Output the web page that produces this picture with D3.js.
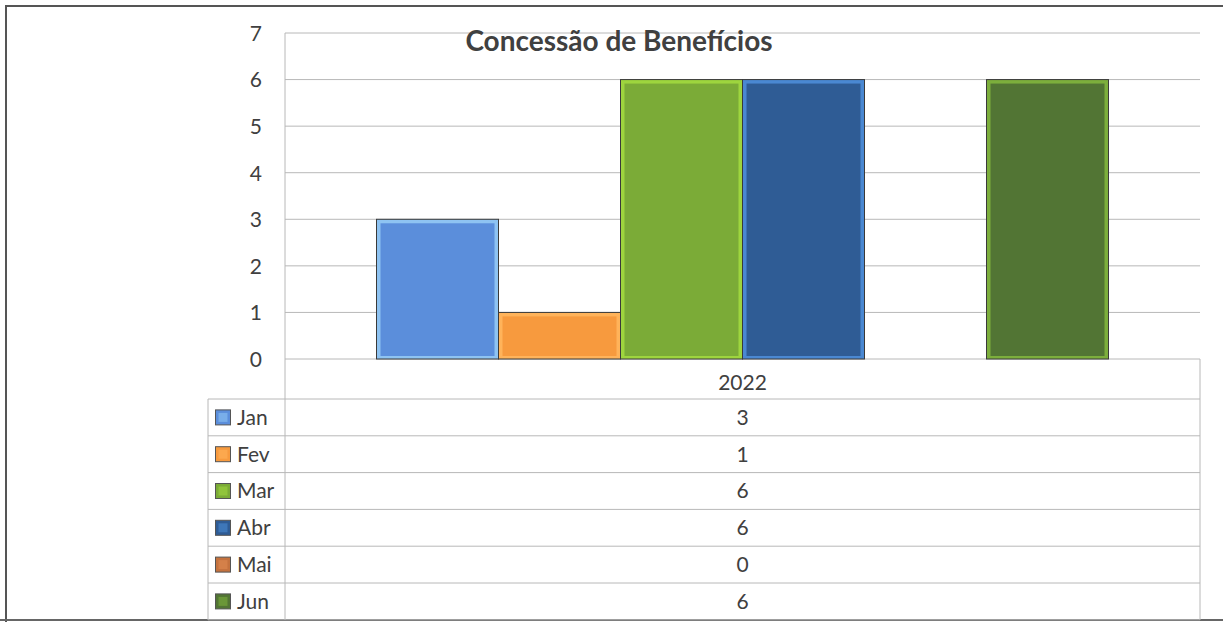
<!DOCTYPE html>
<html><head><meta charset="utf-8">
<script src="https://cdn.jsdelivr.net/npm/d3@7"></script>
<style>body{margin:0;background:#fff}svg{display:block}</style>
</head><body>
<svg id="c" width="1223" height="622"></svg>
<script>
const months = ["Jan","Fev","Mar","Abr","Mai","Jun"];
const values = [3,1,6,6,0,6];
const yTicks = [0,1,2,3,4,5,6,7];
const category = "2022";
const title = "Concessão de Benefícios";
const fills = ["#5b8edb","#f79a3e","#7bab37","#2f5c95","#c4723e","#527534"];
const inner = ["#8ec3f2","#ffb35a","#9ed53e","#4a88d2","#e08a52","#7cae3c"];

const svg = d3.select("#c");
const font = "Lato, 'Liberation Sans', sans-serif";
const txt = "#404040";
const L = 285, R = 1200, T = 33, B = 359;
const y = d3.scaleLinear().domain([0,7]).range([B,T]);
const xOuter = d3.scaleBand().domain([category]).range([L,R]).paddingInner(0).paddingOuter(0.125);
const x = d3.scaleBand().domain(months).range([xOuter(category), xOuter(category)+xOuter.bandwidth()]);
const cx = xOuter(category)+xOuter.bandwidth()/2;

// outer frame
svg.append("path").attr("d","M6,622 V6 H1223").attr("fill","none").attr("stroke","#555").attr("stroke-width",2);
svg.append("line").attr("x1",0).attr("x2",1223).attr("y1",620).attr("y2",620).attr("stroke","#666").attr("stroke-width",2);

// gridlines
svg.append("g").selectAll("line").data(yTicks).join("line")
  .attr("x1",L).attr("x2",R).attr("y1",d=>y(d)).attr("y2",d=>y(d))
  .attr("stroke","#b8b8b8").attr("stroke-width",1);
svg.append("line").attr("x1",L).attr("x2",L).attr("y1",T).attr("y2",620).attr("stroke","#b8b8b8");

// y axis
const ya = svg.append("g").attr("transform",`translate(262,0)`)
  .call(d3.axisLeft(y).tickValues(yTicks).tickFormat(d3.format("d")).tickSize(0).tickPadding(0));
ya.select(".domain").remove();
ya.selectAll("text").attr("font-family",font).attr("font-size",21).attr("fill",txt).attr("dy","0.35em");

// bars
const bars = svg.append("g").selectAll("g").data(values.map((v,i)=>({m:months[i],v,i}))).join("g");
bars.filter(d=>d.v>0).append("rect")
  .attr("x",d=>x(d.m)).attr("width",x.bandwidth())
  .attr("y",d=>y(d.v)).attr("height",d=>y(0)-y(d.v))
  .attr("fill",d=>inner[d.i]).attr("stroke","#3a3a3a").attr("stroke-width",1);
bars.filter(d=>d.v>0).append("rect")
  .attr("x",d=>x(d.m)+4).attr("width",x.bandwidth()-8)
  .attr("y",d=>y(d.v)+4).attr("height",d=>y(0)-y(d.v)-7)
  .attr("fill",d=>fills[d.i]);

// title
svg.append("text").attr("x",619).attr("y",51).attr("text-anchor","middle")
  .attr("font-family",font).attr("font-weight","bold").attr("font-size",28).attr("fill",txt).text(title);

// data table
const rowTop = 399, rowH = 36.8, tabL = 208;
svg.append("text").attr("x",cx).attr("y",390).attr("text-anchor","middle")
  .attr("font-family",font).attr("font-size",21).attr("fill",txt).text(category);
svg.append("line").attr("x1",R).attr("x2",R).attr("y1",B).attr("y2",620).attr("stroke","#b8b8b8");
svg.append("line").attr("x1",tabL).attr("x2",tabL).attr("y1",rowTop).attr("y2",620).attr("stroke","#b8b8b8");
svg.append("line").attr("x1",tabL).attr("x2",R).attr("y1",rowTop).attr("y2",rowTop).attr("stroke","#b8b8b8");
const rows = svg.append("g").selectAll("g").data(months).join("g")
  .attr("transform",(d,i)=>`translate(0,${rowTop+i*rowH})`);
rows.append("line").attr("x1",tabL).attr("x2",R).attr("y1",rowH).attr("y2",rowH).attr("stroke","#b8b8b8");
rows.append("rect").attr("x",215.5).attr("y",rowH/2-7.5).attr("width",15).attr("height",15)
  .attr("fill",(d,i)=>fills[i]).attr("stroke","#555").attr("stroke-width",1);
rows.append("rect").attr("x",218.5).attr("y",rowH/2-4.5).attr("width",9).attr("height",9)
  .attr("fill",(d,i)=>inner[i]).attr("opacity",0.6);
rows.append("text").attr("x",237).attr("y",rowH/2+7.5).attr("font-family",font).attr("font-size",21).attr("fill",txt).text(d=>d);
rows.append("text").attr("x",cx).attr("y",rowH/2+7.5).attr("text-anchor","middle")
  .attr("font-family",font).attr("font-size",21).attr("fill",txt).text((d,i)=>values[i]);
</script>
</body></html>
